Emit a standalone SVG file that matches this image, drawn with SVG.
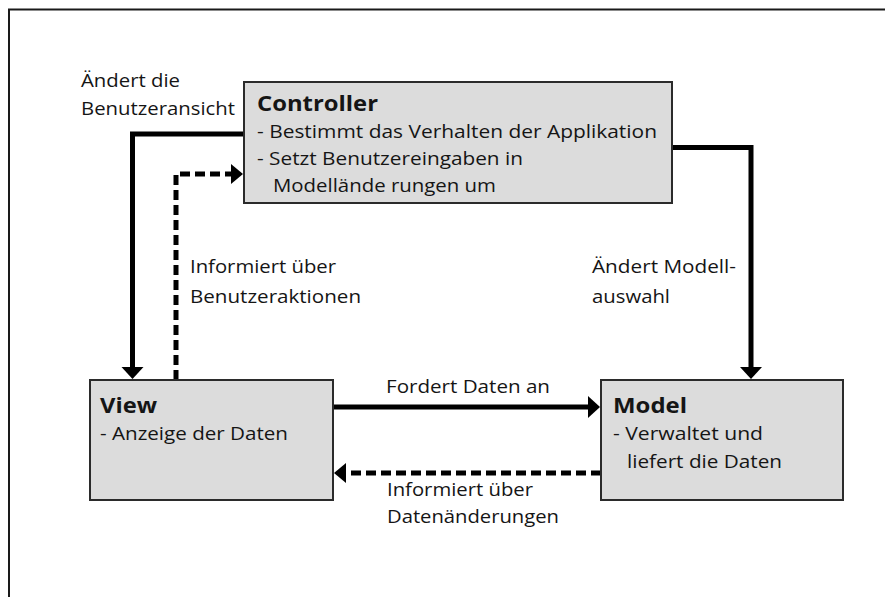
<svg xmlns="http://www.w3.org/2000/svg" width="885" height="597" viewBox="0 0 885 597">
  <defs>
    <style>
      .frame { stroke: #1a1a1a; stroke-width: 2; fill: none; }
      .box { fill: #dcdcdc; stroke: #2b2b2b; stroke-width: 2; }
      .title { font-family: "Open Sans", "Liberation Sans", sans-serif; font-size: 22px; font-weight: bold; fill: #151515; }
      .body { font-family: "Open Sans", "Liberation Sans", sans-serif; font-size: 19px; fill: #151515; }
      .label { font-family: "Open Sans", "Liberation Sans", sans-serif; font-size: 19px; fill: #151515; }
      .solid { fill: none; stroke: #000; stroke-width: 5; }
      .dashed { fill: none; stroke: #000; stroke-width: 5; stroke-dasharray: 10 5; }
    </style>
    <marker id="head" markerUnits="userSpaceOnUse" markerWidth="13" markerHeight="23" refX="0" refY="11" orient="auto">
      <path d="M0,0 L12,11 L0,22 Z" fill="#000"/>
    </marker>
    <marker id="headDash" markerUnits="userSpaceOnUse" markerWidth="13" markerHeight="21" refX="0" refY="10" orient="auto">
      <path d="M0,0 L12,10 L0,20 Z" fill="#000"/>
    </marker>
  </defs>

  <rect width="885" height="597" fill="#ffffff"/>

  <!-- outer frame (top and left edges) -->
  <path class="frame" d="M9,597 V9.5 H885"/>

  <!-- connectors -->
  <g id="connectors">
    <!-- Controller -> View -->
    <polyline class="solid" points="244,134 132.5,134 132.5,367" marker-end="url(#head)"/>
    <!-- View -> Controller (dashed) -->
    <polyline class="dashed" points="176,380 176,174 231,174" marker-end="url(#headDash)"/>
    <!-- Controller -> Model -->
    <polyline class="solid" points="672,147.5 751,147.5 751,367" marker-end="url(#head)"/>
    <!-- View -> Model -->
    <line class="solid" x1="333" y1="407" x2="588" y2="407" marker-end="url(#head)"/>
    <!-- Model -> View (dashed) -->
    <line class="dashed" x1="601" y1="473" x2="346" y2="473" marker-end="url(#headDash)"/>
  </g>

  <!-- connector labels -->
  <g id="labels">
    <text class="label" x="81" y="87" textLength="99" lengthAdjust="spacingAndGlyphs">Ändert die</text>
    <text class="label" x="81" y="115" textLength="154" lengthAdjust="spacingAndGlyphs">Benutzeransicht</text>
    <text class="label" x="190" y="273" textLength="146" lengthAdjust="spacingAndGlyphs">Informiert über</text>
    <text class="label" x="190" y="303" textLength="171" lengthAdjust="spacingAndGlyphs">Benutzeraktionen</text>
    <text class="label" x="592" y="273" textLength="144" lengthAdjust="spacingAndGlyphs">Ändert Modell-</text>
    <text class="label" x="592" y="303" textLength="78" lengthAdjust="spacingAndGlyphs">auswahl</text>
    <text class="label" x="386" y="393" textLength="164" lengthAdjust="spacingAndGlyphs">Fordert Daten an</text>
    <text class="label" x="387" y="496" textLength="146" lengthAdjust="spacingAndGlyphs">Informiert über</text>
    <text class="label" x="387" y="523" textLength="172" lengthAdjust="spacingAndGlyphs">Datenänderungen</text>
  </g>

  <!-- Controller node -->
  <g id="controller">
    <rect class="box" x="244" y="82" width="428" height="121"/>
    <text class="title" x="257" y="111" textLength="121" lengthAdjust="spacingAndGlyphs">Controller</text>
    <text class="body" x="257" y="138" textLength="400" lengthAdjust="spacingAndGlyphs">- Bestimmt das Verhalten der Applikation</text>
    <text class="body" x="257" y="165" textLength="266" lengthAdjust="spacingAndGlyphs">- Setzt Benutzereingaben in</text>
    <text class="body" x="273" y="192" textLength="223" lengthAdjust="spacingAndGlyphs">Modellände rungen um</text>
  </g>

  <!-- View node -->
  <g id="view">
    <rect class="box" x="90" y="380" width="243" height="120"/>
    <text class="title" x="100" y="413" textLength="57" lengthAdjust="spacingAndGlyphs">View</text>
    <text class="body" x="100" y="440" textLength="188" lengthAdjust="spacingAndGlyphs">- Anzeige der Daten</text>
  </g>

  <!-- Model node -->
  <g id="model">
    <rect class="box" x="601" y="380" width="242" height="120"/>
    <text class="title" x="613" y="413" textLength="74" lengthAdjust="spacingAndGlyphs">Model</text>
    <text class="body" x="613" y="440" textLength="150" lengthAdjust="spacingAndGlyphs">- Verwaltet und</text>
    <text class="body" x="627" y="468" textLength="155" lengthAdjust="spacingAndGlyphs">liefert die Daten</text>
  </g>
</svg>
